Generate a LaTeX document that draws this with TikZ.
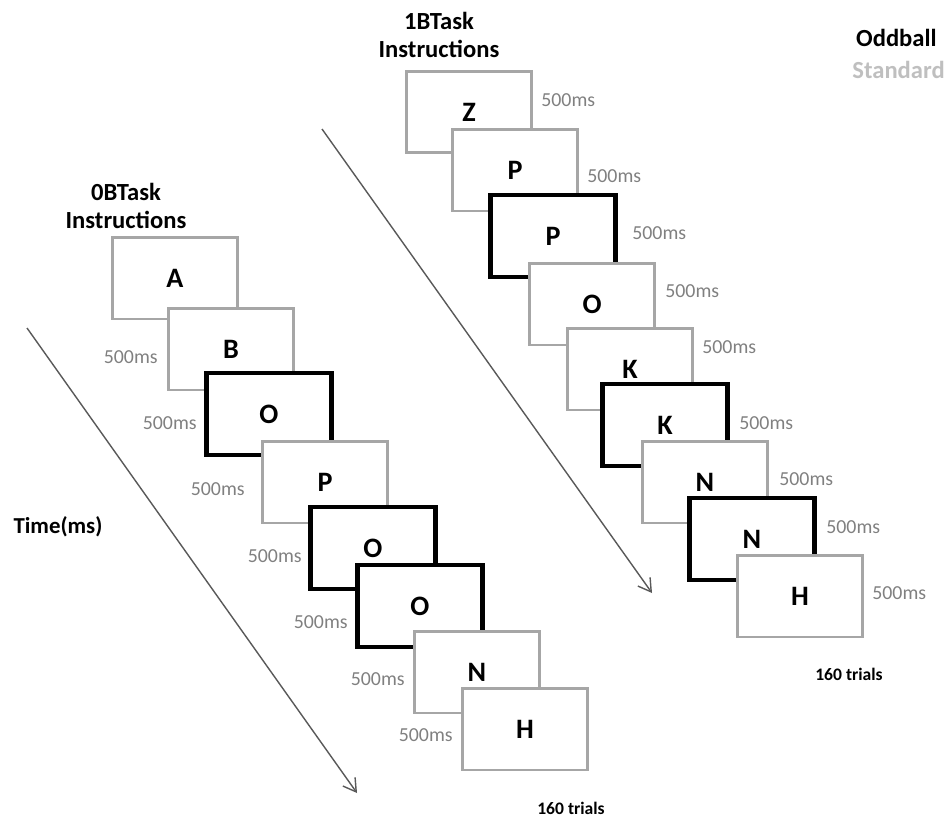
\documentclass[tikz,border=0pt]{standalone}
\usepackage{fontspec}
\setmainfont{Carlito}
\usetikzlibrary{arrows.meta,positioning}
\tikzset{
  stim/standard/.style={draw=black!35, line width=1.7pt, fill=white, minimum width=2.5cm, minimum height=1.64cm, inner sep=0pt, font=\fontsize{16}{18}\selectfont\bfseries},
  stim/oddball/.style={stim/standard, draw=black, line width=2.3pt},
  stim/dur/.style={text=black!50, inner sep=0pt, font=\fontsize{11.3}{13}\selectfont},
  stim/title/.style={align=center, inner sep=0pt, font=\fontsize{14}{16}\selectfont\bfseries},
  stim/trials/.style={inner sep=0pt, font=\fontsize{10}{12}\selectfont\bfseries},
  stim/time/.style={draw=black!65, line width=0.8pt, -{Straight Barb[length=2.5mm,width=3mm]}}
}

\begin{document}
\begin{tikzpicture}[x=0.02cm, y=-0.02cm]
  \useasboundingbox (0,0) rectangle (947,818);

  % Legend
  \node[stim/title, anchor=east] (odd) at (937,38) {Oddball};
  \node[stim/title, anchor=east, text=black!25] (std) at (945,70) {Standard};

  % Time arrows
  \coordinate (t0a) at (27,328);
  \coordinate (t0b) at (357,793);
  \coordinate (t1a) at (322,129);
  \coordinate (t1b) at (652,593);
  \draw[stim/time] (t0a) -- (t0b);
  \draw[stim/time] (t1a) -- (t1b);
  \node[stim/title, font=\fontsize{13}{15}\selectfont\bfseries] (time) at (58,527) {Time(ms)};

  % 0B task
  \node[stim/title] (ins0) at (126,206) {0BTask\\Instructions};
  \foreach \n/\l/\x/\y/\s in {a0/A/175/278/standard, a1/B/231/349/standard,
      a2/O/269/414/oddball, a3/P/325/482/standard, a4/O/373/548/oddball,
      a5/O/420/606/oddball, a6/N/477/672/standard, a7/H/525/729/standard}
    \node[stim/\s] (\n) at (\x,\y) {\l};
  \foreach \n/\x/\y in {a1/158/357, a2/197/423, a3/245/489, a4/302/556,
      a5/348/622, a6/405/679, a7/453/735}
    \node[stim/dur, anchor=east] (d\n) at (\x,\y) {500ms};
  \node[stim/trials] (tr0) at (571,808) {160 trials};

  % 1B task
  \node[stim/title] (ins1) at (439,35) {1BTask\\Instructions};
  \foreach \n/\l/\x/\y/\s in {b0/Z/469/112/standard, b1/P/515/170/standard,
      b2/P/553/236/oddball, b3/O/592/304/standard, b4/K/630/369/standard,
      b5/K/665/425/oddball, b6/N/705/482/standard, b7/N/752/539/oddball,
      b8/H/800/596/standard}
    \node[stim/\s] (\n) at (\x,\y) {\l};
  \foreach \n/\x/\y in {b0/541/100, b1/587/176, b2/632/233, b3/665/291,
      b4/702/347, b5/739/423, b6/779/479, b7/826/527, b8/872/593}
    \node[stim/dur, anchor=west] (d\n) at (\x,\y) {500ms};
  \node[stim/trials] (tr1) at (849,674) {160 trials};
\end{tikzpicture}
\end{document}
